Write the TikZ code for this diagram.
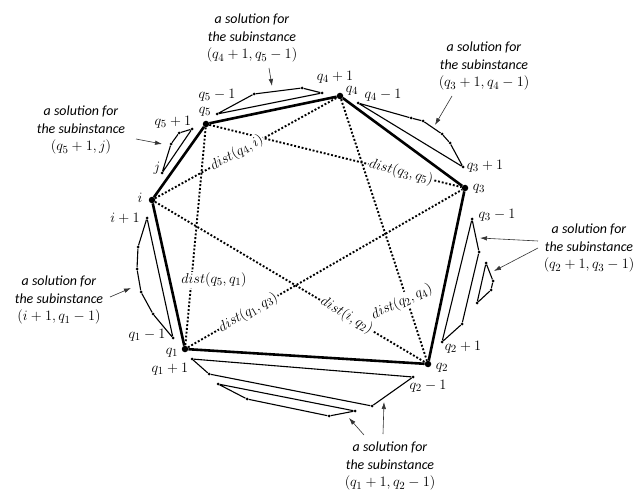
\documentclass[tikz,border=0pt]{standalone}
\usepackage{fontspec}
\newfontfamily\notefont{Carlito}
\usetikzlibrary{arrows.meta}
\newcommand{\solfor}[1]{a solution for\\the subinstance\\{\fontsize{15}{18}\selectfont$#1$}}

\begin{document}
\begin{tikzpicture}[x=1bp, y=-1bp, font=\fontsize{15}{18}\selectfont,
  vtx/.style={circle, fill, inner sep=0pt, minimum size=6.5bp},
  pt/.style={circle, fill, inner sep=0pt, minimum size=3bp},
  vlab/.style={inner sep=0pt},
  tour/.style={line width=2.6bp},
  subsol/.style={line width=1.1bp, line join=round},
  dline/.style={line width=1.9bp, dash pattern=on 1.9bp off 1.9bp},
  dlab/.style={fill=white, inner sep=1bp},
  note/.style={align=center, font=\notefont\itshape\fontsize{14}{18}\selectfont},
  pointer/.style={-{Latex[length=7bp, width=4.5bp]}, line width=0.6bp, black!80}]
\useasboundingbox (0,0) rectangle (642,492);

% tour vertices
\foreach \n/\x/\y in {i/152/200, q5/206/124, q4/340/96, q3/465/188, q2/428/364, q1/185/349}
  \node[vtx] (\n) at (\x,\y) {};

% corners of the partial solutions
\foreach \n/\x/\y in {a1/217/114, a2/254/94, a3/302/88, a4/322/93,
  b1/358/103, b2/411/118, b3/423/121, b4/442/134, b5/450/143, b6/463/167,
  c1/472/219, c2/479/252, c3/462/324, c4/442/342,
  d1/486/263, d2/493/281, d3/491/290, d4/477/303,
  e1/192/359, e2/413/377, e3/372/406, e4/209/374,
  f1/218/384, f2/355/411, f3/329/416, f4/247/399,
  g1/147/218, g2/138/247, g3/137/269, g4/141/292, g5/153/314, g6/173/338,
  h1/192/129, h2/179/133, h3/171/144, h4/162/173}
  \node[pt] (\n) at (\x,\y) {};

% distances
\draw[dline] (i) -- (q4);
\draw[dline] (q5) -- (q3);
\draw[dline] (q5) -- (q1);
\draw[dline] (q1) -- (q3);
\draw[dline] (i) -- (q2);
\draw[dline] (q4) -- (q2);
\path (i) -- (q4) node[dlab, sloped, pos=0.45] (d4i) {$dist(q_4,i)$};
\path (q5) -- (q3) node[dlab, sloped, pos=0.76] (d35) {$dist(q_3,q_5)$};
\path (q1) -- (q3) node[dlab, sloped, pos=0.22] (d13) {$dist(q_1,q_3)$};
\path (i) -- (q2) node[dlab, sloped, pos=0.71] (di2) {$dist(i,q_2)$};
\node[dlab] (d51) at (214,280) {$dist(q_5,q_1)$};
\node[dlab, rotate=25] (d24) at (402,302) {$dist(q_2,q_4)$};

% partial solutions
\draw[subsol] (a1) -- (a2) -- (a3) -- (a4) -- (a1);
\draw[subsol] (b1) -- (b2) -- (b3) -- (b4) -- (b5) -- (b6) -- (b1);
\draw[subsol] (c1) -- (c2) -- (c3) -- (c4) -- (c1);
\draw[subsol] (d1) -- (d2) -- (d3) -- (d4) -- (d1);
\draw[subsol] (e1) -- (e2) -- (e3) -- (e4) -- (e1);
\draw[subsol] (f1) -- (f2) -- (f3) -- (f4) -- (f1);
\draw[subsol] (g1) -- (g2) -- (g3) -- (g4) -- (g5) -- (g6) -- (g1);
\draw[subsol] (h1) -- (h2) -- (h3) -- (h4) -- (h1);

% tour
\draw[tour] (i) -- (q5) -- (q4) -- (q3) -- (q2) -- (q1) -- (i);

% vertex labels
\node[vlab] (li) at (140,198) {$i$};
\node[vlab] (li1) at (125,218) {$i+1$};
\node[vlab] (lj) at (157,168) {$j$};
\node[vlab] (l5p) at (173,122) {$q_5+1$};
\node[vlab] (l5) at (205,112) {$q_5$};
\node[vlab] (l5m) at (217,95) {$q_5-1$};
\node[vlab] (l4p) at (335,77) {$q_4+1$};
\node[vlab] (l4) at (352,91) {$q_4$};
\node[vlab] (l4m) at (383,95) {$q_4-1$};
\node[vlab] (l3p) at (485,166) {$q_3+1$};
\node[vlab] (l3) at (479,189) {$q_3$};
\node[vlab] (l3m) at (497,215) {$q_3-1$};
\node[vlab] (l2p) at (463,347) {$q_2+1$};
\node[vlab] (l2) at (442,368) {$q_2$};
\node[vlab] (l2m) at (428,386) {$q_2-1$};
\node[vlab] (l1p) at (170,369) {$q_1+1$};
\node[vlab] (l1) at (172,353) {$q_1$};
\node[vlab] (l1m) at (147,335) {$q_1-1$};

% notes
\node[note] (s45) at (252,38) {\solfor{(q_4+1,q_5-1)}};
\node[note] (s34) at (484,66) {\solfor{(q_3+1,q_4-1)}};
\node[note] (s5j) at (81,130) {\solfor{(q_5+1,j)}};
\node[note] (si1) at (59,300) {\solfor{(i+1,q_1-1)}};
\node[note] (s23) at (589,248) {\solfor{(q_2+1,q_3-1)}};
\node[note] (s12) at (390,466) {\solfor{(q_1+1,q_2-1)}};

% pointers
\foreach \n/\ax/\ay/\tx/\ty in {45/269/68/272/86, 34/452/96/435/125, 5j/136/139/162/144,
  i1/110/297/131/288, 23a/538/241/480/238, 23b/538/248/494/271,
  12a/383/434/384/402, 12b/364/435/349/418} {
  \coordinate (a\n) at (\ax,\ay);
  \coordinate (t\n) at (\tx,\ty);
  \draw[pointer] (a\n) -- (t\n);
}
\end{tikzpicture}
\end{document}
